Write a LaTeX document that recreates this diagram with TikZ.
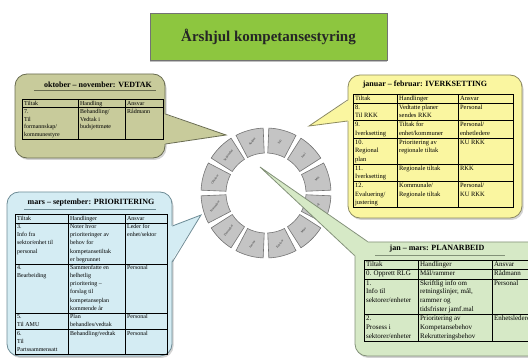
\documentclass[tikz,border=0pt]{standalone}
\usepackage{fontspec}
\setmainfont{Liberation Serif}
\usepackage{array}
\usetikzlibrary{positioning, calc, shadows}
\newcolumntype{L}[1]{>{\raggedright\arraybackslash}p{#1}}
\setlength{\tabcolsep}{1.5pt}
\definecolor{titlegreen}{RGB}{141,198,63}
\definecolor{olivefill}{RGB}{200,203,155}
\definecolor{olivedraw}{RGB}{105,108,80}
\definecolor{yellowfill}{RGB}{250,246,160}
\definecolor{yellowdraw}{RGB}{140,138,95}
\definecolor{bluefill}{RGB}{212,236,243}
\definecolor{bluedraw}{RGB}{110,140,150}
\definecolor{greenfill}{RGB}{214,233,198}
\definecolor{greendraw}{RGB}{130,145,120}
\definecolor{segfill}{RGB}{196,196,196}
\definecolor{segdraw}{RGB}{115,115,115}

\begin{document}
\begin{tikzpicture}[x=1pt, y=-1pt,
  titlebox/.style={draw=black!55, fill=titlegreen, minimum width=237pt, minimum height=47pt, inner sep=0pt, font=\fontsize{15}{17}\selectfont\bfseries, text=black!85, drop shadow={shadow xshift=0pt, shadow yshift=-2pt, opacity=.5}},
  bubble/.style={rounded corners=12pt, draw=#1draw, fill=#1fill, line width=0.8pt, inner sep=0pt, drop shadow={shadow xshift=1.5pt, shadow yshift=-2pt, opacity=.35}},
  heading/.style={font=\fontsize{8}{9}\selectfont\bfseries, inner sep=0pt},
  tabnode/.style={anchor=north west, inner sep=0pt, font=\fontsize{6}{7.8}\selectfont},
  segment/.style={fill=segfill, draw=segdraw, line width=0.6pt},
  month/.style={font=\fontsize{3.2}{3.5}\selectfont, text=black!80, inner sep=0pt}]

    \useasboundingbox (0,0) rectangle (528,358);
    \clip (0,0) rectangle (528,358);

    %Wheel
    \begin{scope}[shift={(266,193)}]
    \foreach \a/\m in {15/Mai, 45/Juni, 75/Juli, 105/August, 135/September, 165/Oktober, 195/November, 225/Desember, 255/Januar, 285/Februar, 315/Mars, 345/April}{
        \draw[segment] (\a-12.5:40pt) -- (\a-12.5:65pt) arc[start angle=\a-12.5, end angle=\a+12.5, radius=65pt] -- (\a+12.5:40pt) arc[start angle=\a+12.5, end angle=\a-12.5, radius=40pt] -- cycle;
        \pgfmathparse{ifthenelse(and(\a>90,\a<270),\a-180,\a)}
        \node[month, rotate=\pgfmathresult] (m\a) at (\a:53pt) {\m};
    }
    \end{scope}

    %Title
    \node[titlebox] (title) at (268.5,36.5) {Årshjul kompetansestyring};

    %Bubbles
    \node[bubble=olive, minimum width=150pt, minimum height=84pt] (vedtak) at (90,116) {};
    \node[bubble=yellow, minimum width=174pt, minimum height=143pt] (iverksetting) at (435,146.5) {};
    \node[bubble=blue, minimum width=165pt, minimum height=164pt] (prioritering) at (89.5,274) {};
    \node[bubble=green, minimum width=190pt, minimum height=114pt] (planarbeid) at (450,299) {};

    %Pointers
    \coordinate (vedtaktip) at (226,135);
    \coordinate (iverksettingtip) at (309,126);
    \coordinate (prioriteringtip) at (201,215);
    \coordinate (planarbeidtip) at (260,167);
    \fill[olivefill] ($(vedtak.east)+(-1.5,-2)$) -- (vedtaktip) -- ($(vedtak.east)+(-1.5,28)$) -- cycle;
    \draw[olivedraw, line width=0.8pt] ($(vedtak.east)+(0,-2)$) -- (vedtaktip) -- ($(vedtak.east)+(0,28)$);
    \fill[yellowfill] ($(iverksetting.west)+(1.5,-46.5)$) -- (iverksettingtip) -- ($(iverksetting.west)+(1.5,-25.5)$) -- cycle;
    \draw[yellowdraw, line width=0.8pt] ($(iverksetting.west)+(0,-46.5)$) -- (iverksettingtip) -- ($(iverksetting.west)+(0,-25.5)$);
    \fill[bluefill] ($(prioritering.east)+(-1.5,-48)$) -- (prioriteringtip) -- ($(prioritering.east)+(-1.5,-12)$) -- cycle;
    \draw[bluedraw, line width=0.8pt] ($(prioritering.east)+(0,-48)$) -- (prioriteringtip) -- ($(prioritering.east)+(0,-12)$);
    \fill[greenfill] (planarbeidtip) -- ($(planarbeid.north west)+(13,0.5)$) -- ($(planarbeid.north west)+(16,14)$) -- ($(planarbeid.north west)+(0.5,14)$) -- cycle;
    \draw[greendraw, line width=0.8pt] ($(planarbeid.north west)+(13,0)$) -- (planarbeidtip) -- ($(planarbeid.north west)+(0,14)$);

    %Headings
    \node[heading] (vedtakhead) at (98,85) {oktober – november: VEDTAK};
    \node[heading] (iverksettinghead) at (425,85) {januar – februar: IVERKSETTING};
    \node[heading] (prioriteringhead) at (91,203) {mars – september: PRIORITERING};
    \node[heading] (planarbeidhead) at (437,249) {jan – mars: PLANARBEID};
    \draw[olivedraw] ([xshift=-10pt,yshift=-2pt]vedtakhead.south west) -- ([xshift=4pt,yshift=-2pt]vedtakhead.south east);
    \draw[bluedraw] ([xshift=-3pt,yshift=-2pt]prioriteringhead.south west) -- ([xshift=1pt,yshift=-2pt]prioriteringhead.south east);
    \draw[greendraw] ([xshift=-14pt,yshift=-2pt]planarbeidhead.south west) -- ([xshift=20pt,yshift=-2pt]planarbeidhead.south east);

    %Tables
    \node[tabnode] (vedtaktab) at (22,99) {%
    \begin{tabular}{|L{52.6pt}|L{43.6pt}|L{34.6pt}|}\hline
    Tiltak & Handling & Ansvar\\\hline
    7.\newline Til\newline formannskap/\newline kommunestyre & Behandling/\newline Vedtak i\newline budsjettmøte & Rådmann\\[4pt]\hline
    \end{tabular}};
    \node[tabnode, font=\fontsize{6.5}{8.5}\selectfont] (iverksettingtab) at (353,94) {%
    \begin{tabular}{|L{40.6pt}|L{57.6pt}|L{51.6pt}|}\hline
    Tiltak & Handlinger & Ansvar\\\hline
    8.\newline Til RKK & Vedtatte planer\newline sendes RKK & Personal\\\hline
    9.\newline Iverksetting & Tiltak for\newline enhet/kommuner & Personal/\newline enhetledere\\\hline
    10.\newline Regional\newline plan & Prioritering av\newline regionale tiltak & KU RKK\\\hline
    11.\newline Iverksetting & Regionale tiltak & RKK\\\hline
    12.\newline Evaluering/\newline justering & Kommunale/\newline Regionale tiltak & Personal/\newline KU RKK\\\hline
    \end{tabular}};
    \node[tabnode, font=\fontsize{6}{8.1}\selectfont] (prioriteringtab) at (15,214) {%
    \begin{tabular}{|L{49.6pt}|L{53.6pt}|L{38.6pt}|}\hline
    Tiltak & Handlinger & Ansvar\\\hline
    3.\newline Info fra\newline sektor/enhet til\newline personal & Noter hvor\newline prioriteringer av\newline behov for\newline kompetansetiltak\newline er begrunnet & Leder for\newline enhet/sektor\\\hline
    4.\newline Bearbeiding & Sammenfatte en\newline helhetlig\newline prioritering –\newline forslag til\newline kompetanseplan\newline kommende år & Personal\\\hline
    5.\newline Til AMU & Plan\newline behandles/vedtak & Personal\\\hline
    6.\newline Til\newline Partssammensatt & Behandling/vedtak & Personal\\\hline
    \end{tabular}};
    \node[tabnode, font=\fontsize{7}{8.8}\selectfont] (planarbeidtab) at (364,260) {%
    \begin{tabular}{|L{50.6pt}|L{70.6pt}|L{56.6pt}|}\hline
    Tiltak & Handlinger & Ansvar\\\hline
    0. Opprett RLG & Mål/rammer & Rådmann\\\hline
    1.\newline Info til\newline sektorer/enheter & Skriftlig info om\newline retningslinjer, mål,\newline rammer og\newline tidsfrister jamf.mal & Personal\\\hline
    2.\newline Prosess i\newline sektorer/enheter & Prioritering av\newline Kompetansebehov\newline Rekrutteringsbehov & Enhetsledere\\\hline
    \end{tabular}};

\end{tikzpicture}
\end{document}
